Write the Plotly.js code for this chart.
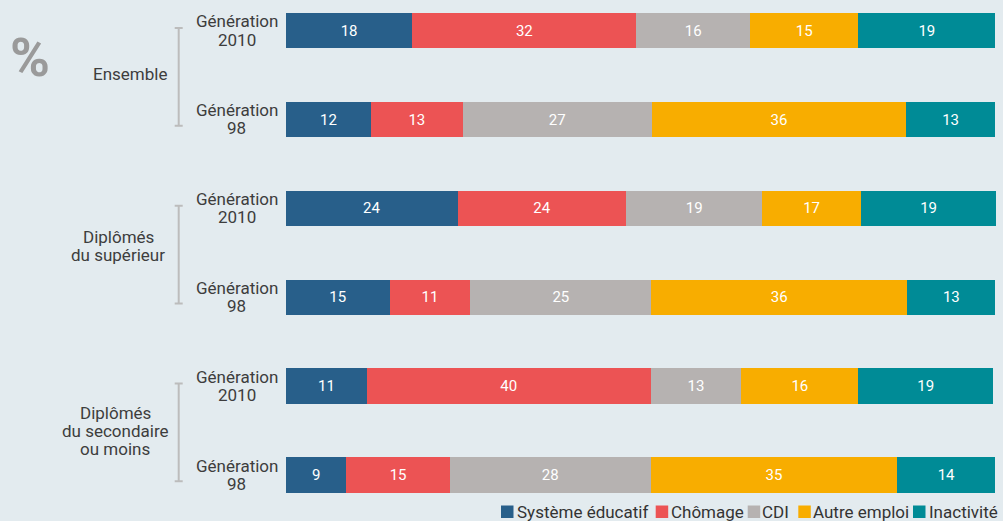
<!DOCTYPE html>
<html>
<head>
<meta charset="utf-8">
<script src="https://cdn.plot.ly/plotly-3.0.1.min.js"></script>
<style>html,body{margin:0;padding:0;background:#e3ebef;}#chart{width:1003px;height:521px;}</style>
</head>
<body>
<div id="chart"></div>
<script>
// Rows, top to bottom
const groups = ["Ensemble", "Diplômés<br>du supérieur", "Diplômés<br>du secondaire<br>ou moins"];
const rowLabels = ["Génération<br>2010", "Génération<br>98", "Génération<br>2010", "Génération<br>98", "Génération<br>2010", "Génération<br>98"];
const seriesNames = ["Système éducatif", "Chômage", "CDI", "Autre emploi", "Inactivité"];
const seriesColors = ["#285f8a", "#ec5354", "#b6b2b1", "#f8ad00", "#008b96"];

// Segment lengths as drawn (percent)
const systemeEducatif = [17.8, 12.0, 24.2, 14.6, 11.4, 8.5];
const chomage         = [31.6, 12.9, 23.8, 11.4, 40.0, 14.6];
const cdi             = [16.0, 26.7, 19.1, 25.5, 12.8, 28.3];
const autreEmploi     = [15.3, 35.8, 14.0, 36.1, 16.5, 34.8];
const inactivite      = [19.3, 12.6, 19.0, 12.4, 19.0, 13.8];

// Printed labels
const systemeEducatifLabels = ["18", "12", "24", "15", "11", "9"];
const chomageLabels         = ["32", "13", "24", "11", "40", "15"];
const cdiLabels             = ["16", "27", "19", "25", "13", "28"];
const autreEmploiLabels     = ["15", "36", "17", "36", "16", "35"];
const inactiviteLabels      = ["19", "13", "19", "13", "19", "14"];

const values = [systemeEducatif, chomage, cdi, autreEmploi, inactivite];
const labels = [systemeEducatifLabels, chomageLabels, cdiLabels, autreEmploiLabels, inactiviteLabels];
const rows = rowLabels.map((_, i) => i);

const FONT = "Roboto, 'Open Sans', sans-serif";
const TXT = "#3d3d3d";
const traces = seriesNames.map((name, s) => ({
  type: "bar",
  orientation: "h",
  name: name,
  y: rows,
  x: values[s],
  text: labels[s],
  textposition: "inside",
  insidetextanchor: "middle",
  constraintext: "none",
  textfont: {family: FONT, size: 15, color: "#ffffff"},
  marker: {color: seriesColors[s], line: {width: 0}},
  width: 0.4,
  hoverinfo: "skip",
  showlegend: false
}));

// layout helpers (pixel -> paper)
const L = 286, PW = 710, T = 5, PH = 495;
const px = v => (v - L) / PW;
const py = v => (T + PH - v) / PH;
const LINE = 18.4;

const annotations = [];
// row labels, each line centred separately
rowLabels.forEach((t, i) => {
  const parts = t.split("<br>");
  parts.forEach((p, k) => annotations.push({
    text: p, xref: "paper", yref: "y", x: px(236.5), y: i,
    yshift: -((k - (parts.length - 1) / 2) * LINE) + 0.3,
    xanchor: "center", yanchor: "middle", showarrow: false,
    font: {family: FONT, size: 17, color: TXT}
  }));
});
// group labels
const groupCenterX = [130, 118, 115];
const groupShift = [1, 7, -0.5];
groups.forEach((t, g) => {
  const parts = t.split("<br>");
  parts.forEach((p, k) => annotations.push({
    text: p, xref: "paper", yref: "y", x: px(groupCenterX[g]), y: 2 * g + 0.5,
    yshift: groupShift[g] - (k - (parts.length - 1) / 2) * LINE,
    xanchor: "center", yanchor: "middle", showarrow: false,
    font: {family: FONT, size: 17, color: TXT}
  }));
});
annotations.push({
  text: "<b>%</b>", xref: "paper", yref: "paper", x: px(30), y: py(57),
  xanchor: "center", yanchor: "middle", showarrow: false,
  font: {family: FONT, size: 54, color: "#9a9a9a"}
});

// legend: coloured squares + names
const shapes = [];
const legSquareX = [501, 655.7, 747.7, 798.3, 913];
const legTextX = [516, 670, 761, 811.5, 928];
seriesNames.forEach((n, s) => {
  shapes.push({type: "rect", xref: "paper", yref: "paper",
    x0: px(legSquareX[s]), x1: px(legSquareX[s] + 12.5), y0: py(518), y1: py(505.5),
    fillcolor: seriesColors[s], line: {width: 0}});
  annotations.push({
    text: n, xref: "paper", yref: "paper", x: px(legTextX[s] - 1), y: py(511.5),
    xanchor: "left", yanchor: "middle", showarrow: false,
    font: {family: FONT, size: 17, color: "#333333"}
  });
});

// group brackets
const bx = px(178.7), cap = 4 / PW;
groups.forEach((_, g) => {
  const y0 = 2 * g - 0.03, y1 = 2 * g + 1.07;
  const line = {color: "#bcbcbc", width: 2};
  shapes.push({type: "line", xref: "paper", yref: "y", x0: bx, x1: bx, y0: y0, y1: y1, line: line});
  shapes.push({type: "line", xref: "paper", yref: "y", x0: bx - cap, x1: bx + cap, y0: y0, y1: y0, line: line});
  shapes.push({type: "line", xref: "paper", yref: "y", x0: bx - cap, x1: bx + cap, y0: y1, y1: y1, line: line});
});

const layout = {
  width: 1003, height: 521,
  paper_bgcolor: "#e3ebef", plot_bgcolor: "#e3ebef",
  margin: {l: L, r: 1003 - L - PW, t: T, b: 521 - T - PH},
  barmode: "stack",
  bargap: 0.6,
  showlegend: false,
  xaxis: {range: [0, 100.1], visible: false, fixedrange: true},
  yaxis: {range: [5.281, -0.289], showticklabels: false, showgrid: false, zeroline: false, showline: false, ticks: "", fixedrange: true},
  annotations: annotations,
  shapes: shapes,
  font: {family: FONT}
};

Plotly.newPlot("chart", traces, layout, {displayModeBar: false, staticPlot: true});
</script>
</body>
</html>
